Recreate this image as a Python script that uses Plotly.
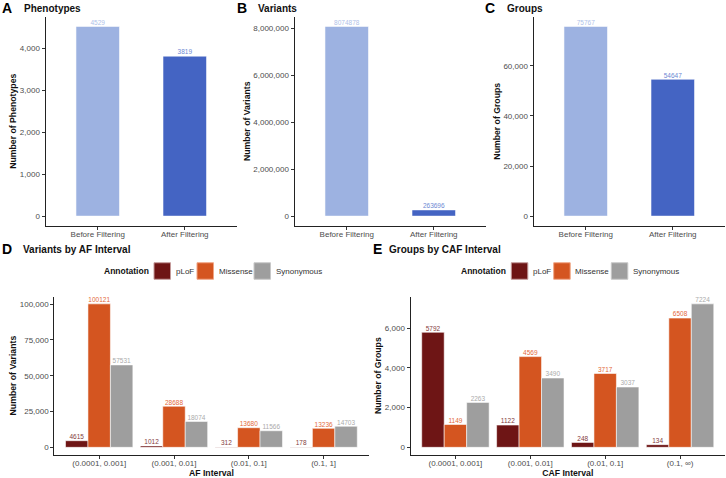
import plotly.graph_objects as go

W, H = 726, 478

# ---------------- data ----------------
filter_cats = ["Before Filtering", "After Filtering"]
phenotypes = [4529, 3819]
variants = [8074878, 263696]
groups = [75767, 54647]

af_intervals = ["(0.0001, 0.001]", "(0.001, 0.01]", "(0.01, 0.1]", "(0.1, 1]"]
caf_intervals = ["(0.0001, 0.001]", "(0.001, 0.01]", "(0.01, 0.1]", "(0.1, \u221e)"]
annotation_names = ["pLoF", "Missense", "Synonymous"]
af_plof = [4615, 1012, 312, 178]
af_missense = [100121, 28688, 13680, 13236]
af_synonymous = [57531, 18074, 11566, 14703]
caf_plof = [5792, 1122, 248, 134]
caf_missense = [1149, 4569, 3717, 6508]
caf_synonymous = [2263, 3490, 3037, 7224]

# ---------------- styles ----------------
FONT = "Liberation Sans, Arial, sans-serif"
blue_fill = ["#9DB2E1", "#4464C3"]
blue_text = ["#AFC1E8", "#6E88D3"]
ann_fill = {"pLoF": "#6E1515", "Missense": "#D45520", "Synonymous": "#9E9E9E"}
ann_text = {"pLoF": "#843C3C", "Missense": "#E36A3B", "Synonymous": "#ABABAB"}
ann_edge = {"pLoF": "#C49A9A", "Missense": "#F0A585", "Synonymous": "#C8C8C8"}
OUTLINE = "rgba(255,255,255,0.55)"
LABEL_SIZE = 6.5


def px_x(p):
    return p / W


def px_y(p):
    return 1 - p / H


def gg_range(vmax):
    return [-0.05 * vmax, 1.05 * vmax]


fig = go.Figure()

top_panels = [
    ("x", "y", phenotypes),
    ("x2", "y2", variants),
    ("x3", "y3", groups),
]
for xa, ya, vals in top_panels:
    fig.add_trace(go.Bar(
        x=filter_cats, y=vals, xaxis=xa, yaxis=ya, width=0.5,
        marker=dict(color=blue_fill, line=dict(color=OUTLINE, width=1)),
        showlegend=False, hoverinfo="x+y",
    ))
    fig.add_trace(go.Scatter(
        x=filter_cats, y=vals, xaxis=xa, yaxis=ya, mode="text",
        text=[str(v) for v in vals], textposition="top center",
        textfont=dict(size=LABEL_SIZE, color=blue_text, family=FONT),
        cliponaxis=False, showlegend=False, hoverinfo="skip",
    ))

bottom = [
    ("x4", "y4", af_intervals, [af_plof, af_missense, af_synonymous]),
    ("x5", "y5", caf_intervals, [caf_plof, caf_missense, caf_synonymous]),
]
for xa, ya, cats, series in bottom:
    for name, vals in zip(annotation_names, series):
        fig.add_trace(go.Bar(
            x=cats, y=vals, xaxis=xa, yaxis=ya, name=name,
            marker=dict(color=ann_fill[name], line=dict(color=OUTLINE, width=1)),
            showlegend=False,
        ))
    for name, vals in zip(annotation_names, series):
        fig.add_trace(go.Scatter(
            x=cats, y=vals, xaxis=xa, yaxis=ya, mode="text", name=name,
            text=[str(v) for v in vals], textposition="top center",
            textfont=dict(size=LABEL_SIZE, color=ann_text[name], family=FONT),
            cliponaxis=False, showlegend=False, hoverinfo="skip",
        ))

axis_common = dict(
    showline=True, linecolor="#222", linewidth=1, ticks="outside", ticklen=3,
    tickcolor="#333", tickwidth=1, showgrid=False, zeroline=False,
    tickfont=dict(size=8, color="#4D4D4D", family=FONT),
)
xaxis_common = dict(axis_common, ticklabelstandoff=-2)
title_font = dict(size=8.7, color="#111", family=FONT, weight="bold")

top_dom_y = [px_y(225.6), px_y(16.9)]
bot_dom_y = [px_y(454.5), px_y(296.7)]

layout = dict(
    width=W, height=H, margin=dict(l=0, r=0, t=0, b=0),
    paper_bgcolor="white", plot_bgcolor="white",
    barmode="group", bargap=0.1, bargroupgap=0,
    scattermode="group", scattergap=0.1,
    font=dict(family=FONT),
    xaxis=dict(domain=[px_x(45.5), px_x(237)], anchor="y", range=[-0.6, 1.6], **xaxis_common),
    yaxis=dict(domain=top_dom_y, anchor="x", range=gg_range(max(phenotypes)),
               tickvals=[0, 1000, 2000, 3000, 4000], tickformat=",",
               title=dict(text="Number of Phenotypes", font=title_font, standoff=1), **axis_common),
    xaxis2=dict(domain=[px_x(294.5), px_x(486)], anchor="y2", range=[-0.6, 1.6], **xaxis_common),
    yaxis2=dict(domain=top_dom_y, anchor="x2", range=gg_range(max(variants)),
                tickvals=[0, 2000000, 4000000, 6000000, 8000000], tickformat=",",
                title=dict(text="Number of Variants", font=title_font, standoff=1), **axis_common),
    xaxis3=dict(domain=[px_x(533.5), px_x(725)], anchor="y3", range=[-0.6, 1.6], **xaxis_common),
    yaxis3=dict(domain=top_dom_y, anchor="x3", range=gg_range(max(groups)),
                tickvals=[0, 20000, 40000, 60000], tickformat=",",
                title=dict(text="Number of Groups", font=title_font, standoff=1), **axis_common),
    xaxis4=dict(domain=[px_x(54.3), px_x(368.5)], anchor="y4", range=[-0.6, 3.6],
                title=dict(text="AF Interval", font=title_font, standoff=2), **xaxis_common),
    yaxis4=dict(domain=bot_dom_y, anchor="x4", range=gg_range(max(af_missense)),
                tickvals=[0, 25000, 50000, 75000, 100000], tickformat=",",
                title=dict(text="Number of Variants", font=title_font, standoff=1), **axis_common),
    xaxis5=dict(domain=[px_x(410.5), px_x(725)], anchor="y5", range=[-0.6, 3.6],
                title=dict(text="CAF Interval", font=title_font, standoff=2), **xaxis_common),
    yaxis5=dict(domain=bot_dom_y, anchor="x5", range=gg_range(max(caf_synonymous)),
                tickvals=[0, 2000, 4000, 6000], tickformat=",",
                title=dict(text="Number of Groups", font=title_font, standoff=1), **axis_common),
)
fig.update_layout(**layout)

# panel titles
panel_titles = [
    ("A", "Phenotypes", 1, 22.5, 8),
    ("B", "Variants", 236, 256.5, 8),
    ("C", "Groups", 484, 506, 8),
    ("D", "Variants by AF Interval", 1, 22, 249),
    ("E", "Groups by CAF Interval", 371.5, 387.5, 249),
]
for letter, title, xl, xt, yc in panel_titles:
    fig.add_annotation(text=f"<b>{letter}</b>", x=px_x(xl), y=px_y(yc), xref="paper", yref="paper",
                       xanchor="left", yanchor="middle", showarrow=False, borderpad=0,
                       font=dict(size=14, color="#000", family=FONT))
    fig.add_annotation(text=f"<b>{title}</b>", x=px_x(xt), y=px_y(yc), xref="paper", yref="paper",
                       xanchor="left", yanchor="middle", showarrow=False, borderpad=0,
                       font=dict(size=10, color="#111", family=FONT))

# legends (Annotation key) for panels D and E
legend_specs = [
    (103, [154, 197, 254]),
    (459.5, [511.3, 553.7, 611.3]),
]
SW = 16.5
LEG_Y = 271
for title_x, swatch_xs in legend_specs:
    fig.add_annotation(text="<b>Annotation</b>", x=px_x(title_x), y=px_y(LEG_Y), xref="paper", yref="paper",
                       xanchor="left", yanchor="middle", showarrow=False, borderpad=0,
                       font=dict(size=8.5, color="#111", family=FONT))
    for name, sx in zip(annotation_names, swatch_xs):
        fig.add_shape(type="rect", xref="paper", yref="paper",
                      x0=px_x(sx), x1=px_x(sx + SW), y0=px_y(LEG_Y + SW / 2), y1=px_y(LEG_Y - SW / 2),
                      fillcolor=ann_fill[name], line=dict(color=ann_edge[name], width=1))
        fig.add_annotation(text=name, x=px_x(sx + SW + 4), y=px_y(LEG_Y), xref="paper", yref="paper",
                           xanchor="left", yanchor="middle", showarrow=False, borderpad=0,
                           font=dict(size=8, color="#333", family=FONT))

fig.write_html("out.html", config={"displayModeBar": False},
               post_script="document.body.style.margin='0';")
